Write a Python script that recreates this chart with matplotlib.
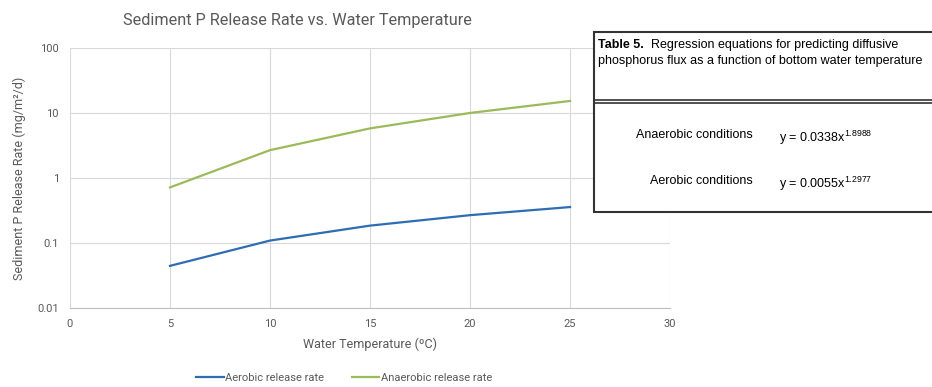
import matplotlib
matplotlib.use("Agg")
from matplotlib import pyplot as plt
from matplotlib.patches import Rectangle
from matplotlib.lines import Line2D

# values
temp = [5, 10, 15, 20, 25]
aerobic = [0.0445, 0.109, 0.185, 0.268, 0.357]
anaerobic = [0.716, 2.68, 5.79, 10.0, 15.3]

x_ticks = [0, 5, 10, 15, 20, 25, 30]
y_ticks = [0.01, 0.1, 1, 10, 100]
y_labels = ["0.01", "0.1", "1", "10", "100"]

table_line1 = "Regression equations for predicting diffusive"
table_line2 = "phosphorus flux as a function of bottom water temperature"
rows = ["Anaerobic conditions", "Aerobic conditions"]
coefs = ["0.0338", "0.0055"]
exps = ["1.8988", "1.2977"]

grey = "#595959"
blue = "#2E6DB4"
green = "#9BBB59"

plt.rcParams["font.family"] = ["Roboto", "DejaVu Sans"]
plt.rcParams["mathtext.default"] = "regular"

fig = plt.figure(figsize=(9.32, 3.87), dpi=100)
ax = fig.add_axes([0.0751, 0.2041, 0.6438, 0.672])

ax.plot(temp, aerobic, color=blue, lw=1.6, label="Aerobic release rate")
ax.plot(temp, anaerobic, color=green, lw=1.6, label="Anaerobic release rate")

ax.set_yscale("log")
ax.set_xlim(0, 30)
ax.set_ylim(0.01, 100)
ax.set_xticks(x_ticks)
ax.set_yticks(y_ticks)
ax.set_yticklabels(y_labels)
ax.minorticks_off()
ax.tick_params(length=0, labelsize=8, colors=grey, pad=8)
ax.grid(True, color="#d9d9d9", lw=0.8)
for s in ["top", "right", "left"]:
    ax.spines[s].set_visible(False)
ax.spines["bottom"].set_color("#bfbfbf")
ax.set_axisbelow(True)

ax.set_xlabel("Water Temperature (ºC)", fontsize=9, color=grey, labelpad=6)
ax.set_ylabel("Sediment P Release Rate (mg/m²/d)", fontsize=9, color=grey, labelpad=8)
fig.text(297 / 932, 1 - 20 / 387, "Sediment P Release Rate vs. Water Temperature",
         ha="center", va="center", fontsize=11.7, color=grey)

handles = [Line2D([], [], color=blue, lw=1.6), Line2D([], [], color=green, lw=1.6)]
fig.legend(handles, ["Aerobic release rate", "Anaerobic release rate"],
           loc="center", bbox_to_anchor=(0.369, 0.023), ncol=2, frameon=False,
           fontsize=8, labelcolor=grey, handlelength=2.5, handletextpad=0.1,
           columnspacing=2.5)

# table inset
tf = ["Liberation Sans", "DejaVu Sans"]
x0, x1 = 594 / 932, 940 / 932
y0, y1 = 1 - 212 / 387, 1 - 32 / 387
fig.patches.append(Rectangle((x0, y0), x1 - x0, y1 - y0, transform=fig.transFigure,
                             facecolor="white", edgecolor="#333333", lw=1.5, zorder=5))
for yy in [1 - 100 / 387, 1 - 103 / 387]:
    fig.lines.append(Line2D([x0, x1], [yy, yy], transform=fig.transFigure,
                            color="#333333", lw=1.2, zorder=6))
fig.text(598 / 932, 1 - 45 / 387, "Table 5.", fontsize=9, fontweight="bold",
         family=tf, va="center", ha="left", zorder=7)
fig.text(651 / 932, 1 - 45 / 387, table_line1, fontsize=9, family=tf,
         va="center", ha="left", zorder=7)
fig.text(598 / 932, 1 - 61 / 387, table_line2, fontsize=9, family=tf,
         va="center", ha="left", zorder=7)
row_y = [1 - 135 / 387, 1 - 181 / 387]
for r, c, e, yy in zip(rows, coefs, exps, row_y):
    fig.text(753 / 932, yy, r, fontsize=9, family=tf, ha="right", va="center", zorder=7)
    fig.text(779 / 932, yy - 0.008, "y = " + c + "x$^{" + e + "}$", fontsize=9,
             family=tf, ha="left", va="center", zorder=7)

fig.savefig("out.png", dpi=100)
